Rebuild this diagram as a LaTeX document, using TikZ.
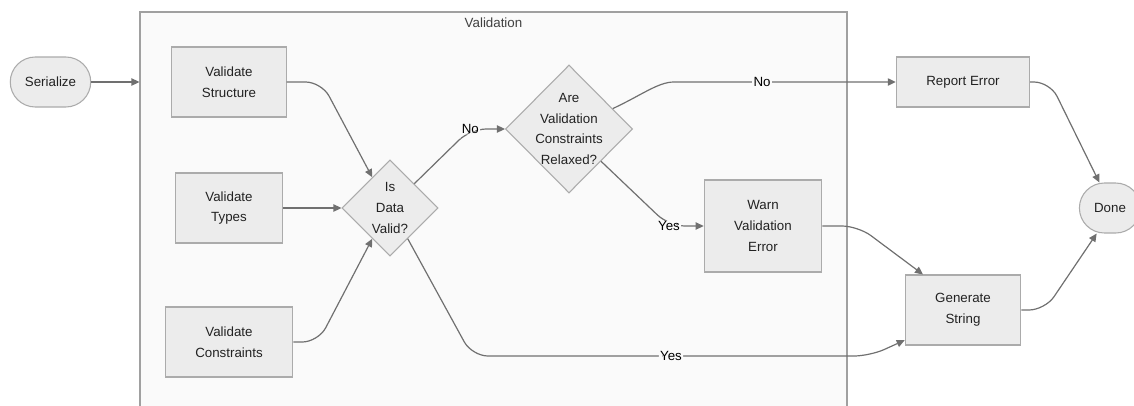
\documentclass[tikz,border=0pt]{standalone}
\usepackage{fontspec}
\setmainfont{Liberation Sans}
\usetikzlibrary{shapes.geometric,arrows.meta}

\definecolor{boxfill}{HTML}{ECECEC}
\definecolor{boxline}{HTML}{ABABAB}
\definecolor{edgegray}{HTML}{707070}
\definecolor{clusterfill}{HTML}{FAFAFA}
\definecolor{clusterline}{HTML}{A0A0A0}
\definecolor{textgray}{HTML}{222222}

\begin{document}
\begin{tikzpicture}[x=0.75pt,y=0.75pt,
		font=\fontsize{10}{15.5}\selectfont, text=textgray,
		proc/.style={draw=boxline, fill=boxfill, line width=0.8pt, align=center,
			inner xsep=22.5pt, inner ysep=13pt, minimum height=52.5pt},
		term/.style={draw=boxline, fill=boxfill, line width=0.8pt, rounded corners=18.75pt,
			minimum height=37.5pt, inner xsep=11pt},
		decision/.style={diamond, draw=boxline, fill=boxfill, line width=0.8pt, inner sep=0pt},
		flow/.style={draw=edgegray, line width=0.9pt, rounded corners=12pt,
			-{Triangle[length=6pt,width=5.5pt]}},
		lbl/.style={fill=clusterfill, inner sep=1pt, text=black}]
	\useasboundingbox (0,0) rectangle (1134,405);
	\clip (0,0) rectangle (1134,405);

	% validation group
	\node[draw=clusterline, fill=clusterfill, line width=0.8pt, minimum width=530.25pt,
		minimum height=302.25pt] (valid) at (493.5,191.5) {};
	\node[below=1pt, text=black!75] (validlbl) at (valid.north) {Validation};

	% nodes
	\node[term] (serialize) at (50.5,323) {Serialize};
	\node[proc] (struct) at (229,323) {Validate\\Structure};
	\node[proc] (types) at (229,197) {Validate\\Types};
	\node[proc] (cons) at (229,63) {Validate\\Constraints};
	\node[decision, minimum width=72pt, minimum height=72pt,
		label={[align=center]center:Is\\Data\\Valid?}] (isvalid) at (390,197) {};
	\node[decision, minimum width=95.25pt, minimum height=96pt,
		label={[align=center]center:Are\\Validation\\Constraints\\Relaxed?}] (relaxed) at (569,276) {};
	\node[proc, minimum height=69pt] (warn) at (763,179) {Warn\\Validation\\Error};
	\node[proc, minimum height=37.5pt] (report) at (963,323) {Report Error};
	\node[proc] (generate) at (963,95) {Generate\\String};
	\node[term] (done) at (1110,197) {Done};

	% connectors
	\draw[flow] (serialize.east) -- (serialize -| valid.west);
	\draw[flow] (struct.east) -- ++(35,0) -- (isvalid.120);
	\draw[flow] (types.east) -- (isvalid.west);
	\draw[flow] (cons.east) -- ++(25,0) -- (isvalid.240);
	\draw[flow] (isvalid.north east) -- ([xshift=-26pt]relaxed.west) node[lbl] {No} -- (relaxed.west);
	\draw[flow] (relaxed.25) to[out=25,in=180] (690,323) -- node[lbl, pos=.35] {No} (report.west);
	\draw[flow] (relaxed.south east) -- ([xshift=-26pt]warn.west) node[lbl] {Yes} -- (warn.west);
	\draw[flow] (isvalid.-60) -- (472,49) -- node[lbl] {Yes} (870,49) -- ([yshift=4pt]generate.south west);
	\draw[flow] (warn.east) -- (858,179) -- ([xshift=-30pt]generate.north);
	\draw[flow] (report.east) -- (1050,323) -- ([xshift=-8pt]done.north);
	\draw[flow] (generate.east) -- (1045,95) -- ([xshift=-10pt]done.south);
\end{tikzpicture}
\end{document}
